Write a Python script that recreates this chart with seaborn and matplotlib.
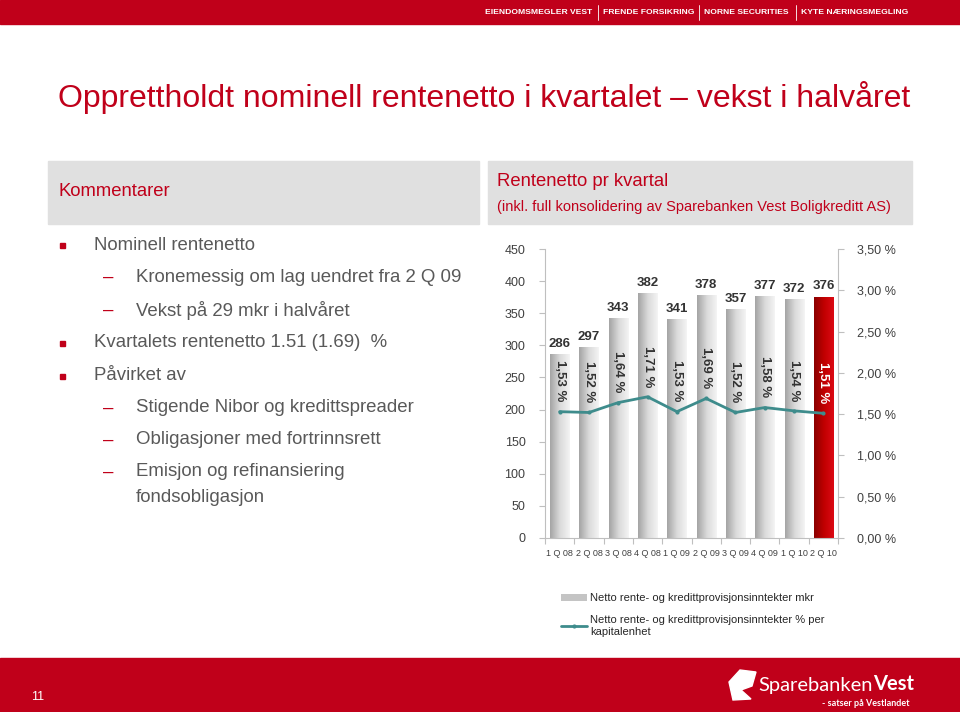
import numpy as np
import pandas as pd
import seaborn as sns
import matplotlib.pyplot as plt
from matplotlib.patches import Rectangle, Patch, Polygon
from matplotlib.lines import Line2D
from matplotlib.text import Annotation
from matplotlib.ticker import FuncFormatter, FixedLocator
from matplotlib.colors import LinearSegmentedColormap

# data
quarters = ["1 Q 08", "2 Q 08", "3 Q 08", "4 Q 08", "1 Q 09",
            "2 Q 09", "3 Q 09", "4 Q 09", "1 Q 10", "2 Q 10"]
netto_mkr = [286, 297, 343, 382, 341, 378, 357, 377, 372, 376]
netto_pct = [1.53, 1.52, 1.64, 1.71, 1.53, 1.69, 1.52, 1.58, 1.54, 1.51]

header_items = ["EIENDOMSMEGLER VEST", "FRENDE FORSIKRING", "NORNE SECURITIES", "KYTE NÆRINGSMEGLING"]
bullets = [
    (0, "Nominell rentenetto"),
    (1, "Kronemessig om lag uendret fra 2 Q 09"),
    (1, "Vekst på 29 mkr i halvåret"),
    (0, "Kvartalets rentenetto 1.51 (1.69)  %"),
    (0, "Påvirket av"),
    (1, "Stigende Nibor og kredittspreader"),
    (1, "Obligasjoner med fortrinnsrett"),
    (1, "Emisjon og refinansiering"),
    (2, "fondsobligasjon"),
]

RED = "#C0001A"
GREY_TXT = "#595959"
TEAL = "#3E8C8C"

sns.set_theme(style="white")
plt.rcParams["font.family"] = ["Liberation Sans", "DejaVu Sans"]

W, H = 960, 712
fig = plt.figure(figsize=(9.6, 7.12), dpi=100)
fx = lambda px: px / W
fy = lambda py: 1 - py / H

# header strip
fig.patches.append(Rectangle((0, fy(24)), 1, 24 / H, transform=fig.transFigure,
                             color=RED, zorder=0))
hx = [485, 603, 704, 801]
for i, (x, t) in enumerate(zip(hx, header_items)):
    fig.text(fx(x), fy(13), t, color="white", fontsize=6.1, fontweight="bold", va="center")
    if i > 0:
        fig.add_artist(Line2D([fx(x - 5)] * 2, [fy(5), fy(20)], transform=fig.transFigure,
                              color="white", lw=0.6))

# title
fig.text(fx(58), fy(98), "Opprettholdt nominell rentenetto i kvartalet – vekst i halvåret",
         color=RED, fontsize=23, va="center")

# grey panel headers
for x0, x1 in [(48, 479), (488, 912)]:
    fig.patches.append(Rectangle((fx(x0), fy(224)), (x1 - x0) / W, 63 / H,
                                 transform=fig.transFigure, color="#E0E0E0", zorder=0))
fig.text(fx(58), fy(192), "Kommentarer", color=RED, fontsize=13.3, va="center")
fig.text(fx(497), fy(181), "Rentenetto pr kvartal", color=RED, fontsize=13.3, va="center")
fig.text(fx(497), fy(207), "(inkl. full konsolidering av Sparebanken Vest Boligkreditt AS)",
         color=RED, fontsize=10.5, va="center")

# bullet list
ys = [245, 277, 310, 343, 376, 408, 440, 472, 497]
for (lvl, txt), y in zip(bullets, ys):
    if lvl == 0:
        fig.patches.append(Rectangle((fx(60), fy(y + 3)), 5 / W, 5 / H,
                                     transform=fig.transFigure, color=RED))
        fig.text(fx(94), fy(y), txt, color=GREY_TXT, fontsize=13.4, va="center")
    else:
        if lvl == 1:
            fig.text(fx(103), fy(y), "–", color=RED, fontsize=13.4, va="center")
        fig.text(fx(136), fy(y), txt, color=GREY_TXT, fontsize=13.4, va="center")

# chart
ax = fig.add_axes([fx(545), fy(538), (838 - 545) / W, (538 - 249) / H])
df = pd.DataFrame({"kvartal": quarters, "mkr": netto_mkr, "pct": netto_pct})
sns.barplot(data=df, x="kvartal", y="mkr", ax=ax, width=0.65, color="#C8C8C8", zorder=2)

grey_cm = LinearSegmentedColormap.from_list("g", ["#A4A4A4", "#DADADA", "#F4F4F4"])
red_cm = LinearSegmentedColormap.from_list("r", ["#8A0000", "#C00000", "#DC0A14"])
grad = np.linspace(0, 1, 64).reshape(1, -1)
bars = list(ax.patches)
for i, b in enumerate(bars):
    x, y0 = b.get_x(), b.get_y()
    w, h = b.get_width(), b.get_height()
    cm = red_cm if i == len(bars) - 1 else grey_cm
    img = ax.imshow(grad, cmap=cm, extent=(x, x + w, y0, y0 + h), aspect="auto",
                    origin="lower", zorder=2)
    img.set_clip_path(b)
    b.set_alpha(0)
    ax.annotate(str(netto_mkr[i]), (x + w / 2, y0 + h), xytext=(0, 3),
                textcoords="offset points", ha="center", va="bottom",
                fontsize=9.5, fontweight="bold", color="#333333", zorder=4)

ax.set_xlim(-0.5, len(quarters) - 0.5)
ax.set_ylim(0, 450)
ax.set_yticks(range(0, 451, 50))
ax.set_xlabel("")
ax.set_ylabel("")

ax2 = ax.twinx()
sns.lineplot(x=np.arange(len(quarters)), y=netto_pct, ax=ax2, color=TEAL, lw=2,
             marker="o", markersize=3, markeredgewidth=0, zorder=3)
ax2.set_ylim(0, 3.5)
ax2.set_yticks(np.arange(0, 3.51, 0.5))
ax2.yaxis.set_major_formatter(FuncFormatter(lambda v, p: f"{v:.2f}".replace(".", ",") + " %"))
for i, v in enumerate(netto_pct):
    col = "white" if i == len(netto_pct) - 1 else "#333333"
    ax2.annotate(f"{v:.2f}".replace(".", ",") + " %", (i, v), xytext=(0, 22),
                 textcoords="offset points", ha="center", va="center", rotation=-90,
                 fontsize=9.5, fontweight="bold", color=col)

for a in (ax, ax2):
    a.set_facecolor("none")
    for s in a.spines.values():
        s.set_color("#BFBFBF")
        s.set_linewidth(0.8)
    a.spines["top"].set_visible(False)
ax2.spines["left"].set_visible(False)
ax2.spines["bottom"].set_visible(False)
ax.spines["right"].set_visible(False)

ax.tick_params(axis="y", length=4, width=0.8, color="#BFBFBF", labelsize=9,
               labelcolor="#404040", pad=10, left=True)
ax2.tick_params(axis="y", length=4, width=0.8, color="#BFBFBF", labelsize=9,
                labelcolor="#404040", pad=10, right=True)
ax.tick_params(axis="x", which="major", length=0, labelsize=6.5, labelcolor="#404040", pad=8)
ax.xaxis.set_minor_locator(FixedLocator(np.arange(-0.5, len(quarters), 1.0)))
ax.tick_params(axis="x", which="minor", length=4, width=0.8, color="#BFBFBF", bottom=True)

# legend
handles = [Patch(facecolor="#C4C4C4", edgecolor="none"),
           Line2D([], [], color=TEAL, lw=2, marker="o", markersize=3, markeredgewidth=0)]
labels = ["Netto rente- og kredittprovisjonsinntekter mkr",
          "Netto rente- og kredittprovisjonsinntekter % per\nkapitalenhet"]
fig.legend(handles, labels, loc="upper left", bbox_to_anchor=(fx(551), fy(583)),
           frameon=False, fontsize=8, handlelength=2.3, handleheight=0.6,
           labelspacing=1.1, handletextpad=0.3, labelcolor="#262626")

# footer
fig.patches.append(Rectangle((0, 0), 1, (H - 658) / H, transform=fig.transFigure,
                             color=RED, zorder=0))
fig.text(fx(38), fy(697), "11", color="white", fontsize=9, ha="center", va="center")
fig.patches.append(Polygon([(fx(733), fy(700)), (fx(729), fy(682)), (fx(740), fy(670)),
                            (fx(756), fy(672)), (fx(752), fy(686)), (fx(741), fy(690)),
                            (fx(751), fy(699))], closed=True, transform=fig.transFigure,
                           color="white"))
t_spb = fig.text(fx(758), fy(685), "Sparebanken", color="white", fontsize=14.5,
                 va="baseline", family="Lato")
t_spb.set_position((fx(758), fy(691)))
fig.add_artist(Annotation("Vest", xy=(1, 0), xycoords=t_spb, xytext=(0.5, 0),
                          textcoords="offset points", va="bottom", ha="left",
                          color="white", fontsize=14.5, family="Lato", fontweight="bold"))
fig.text(fx(910), fy(703), "- satser på Vestlandet", color="white", fontsize=6.5,
         va="center", ha="right", family="Lato", fontweight="bold")

fig.savefig("out.png", dpi=100, facecolor="white")
